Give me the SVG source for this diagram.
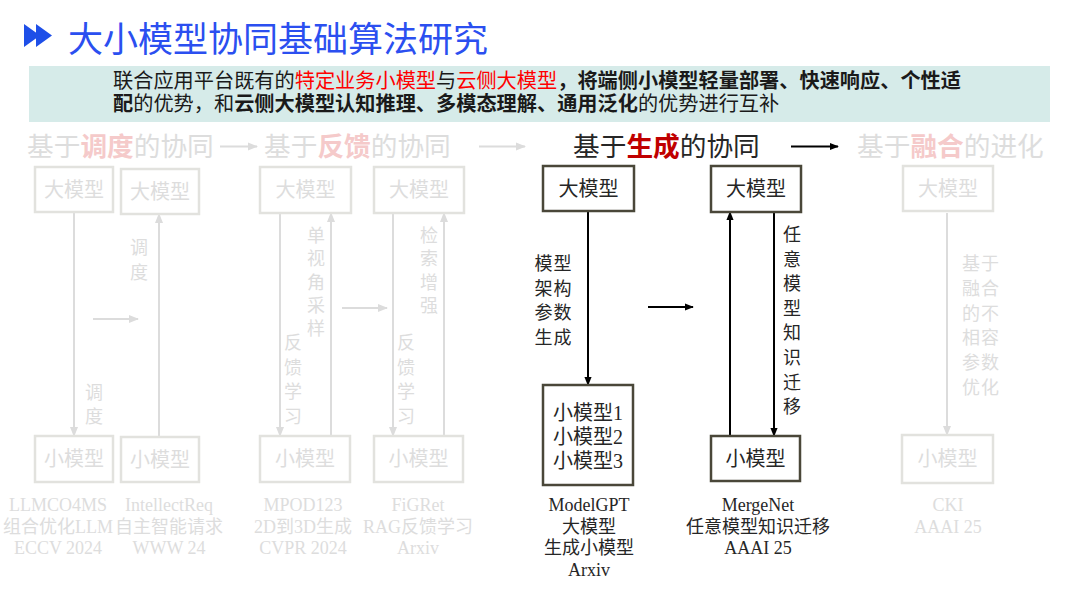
<svg xmlns="http://www.w3.org/2000/svg" width="1080" height="608" viewBox="0 0 1080 608">
<style>
.cjk{font-family:"Noto Sans CJK SC","Noto Sans",sans-serif;}
.ser{font-family:"Liberation Serif","Noto Sans CJK SC",serif;}
.title{font-size:35px;fill:#2b4ff0;}
.sub{font-size:20.2px;fill:#1a1a1a;}
.red{fill:#ff0000;}
.b{font-weight:bold;}
.hdr{font-size:26.7px;}
.fadeT{fill:#dddddd;}
.fadeR{fill:#f5caca;font-weight:bold;}
.darkT{fill:#262626;}
.darkR{fill:#c00000;font-weight:bold;}
.fbox{fill:#ffffff;stroke:#e2e2de;stroke-width:2.5;}
.dbox{fill:#ffffff;stroke:#4a4739;stroke-width:2.5;}
.nt{font-size:20px;text-anchor:middle;}
.lbl{font-size:18px;text-anchor:middle;}
.cap{font-size:18px;text-anchor:middle;}
.fl{stroke:#dcdcdc;stroke-width:2;fill:none;}
.dl{stroke:#000000;stroke-width:2;fill:none;}
</style>
<defs>
<marker id="ah-f" markerUnits="userSpaceOnUse" markerWidth="10" markerHeight="10" viewBox="0 0 10 10" refX="9" refY="5" orient="auto"><path d="M0,1 L10,5 L0,9 z" fill="#dcdcdc"/></marker>
<marker id="ah-d" markerUnits="userSpaceOnUse" markerWidth="9" markerHeight="9" viewBox="0 0 10 10" refX="9" refY="5" orient="auto"><path d="M0,1 L10,5 L0,9 z" fill="#000000"/></marker>
</defs>

<rect width="1080" height="608" fill="#ffffff"/>

<g id="title">
<path d="M24,24 L40,35.5 L24,47 z M36,24 L52,35.5 L36,47 z" fill="#1e4fe8"/>
<text x="68" y="52" class="cjk title">大小模型协同基础算法研究</text>
</g>

<g id="summary">
<rect x="29" y="66" width="1021" height="56" fill="#d6ebe9"/>
<text x="113" y="88" class="cjk sub">联合应用平台既有的<tspan class="red">特定业务小模型</tspan>与<tspan class="red">云侧大模型</tspan><tspan class="b">，将端侧小模型轻量部署、快速响应、个性适</tspan></text>
<text x="113" y="111" class="cjk sub"><tspan class="b">配</tspan>的优势，和<tspan class="b">云侧大模型认知推理、多模态理解、通用泛化</tspan>的优势进行互补</text>
</g>

<g id="headers">
<text x="27" y="156" class="cjk hdr fadeT">基于<tspan class="fadeR">调度</tspan>的协同</text>
<text x="264" y="156" class="cjk hdr fadeT">基于<tspan class="fadeR">反馈</tspan>的协同</text>
<text x="573" y="156" class="cjk hdr darkT">基于<tspan class="darkR">生成</tspan>的协同</text>
<text x="857" y="156" class="cjk hdr fadeT">基于<tspan class="fadeR">融合</tspan>的进化</text>
</g>

<g id="connectors">
<line x1="220" y1="146.5" x2="257" y2="146.5" class="fl" marker-end="url(#ah-f)"/>
<line x1="479" y1="146.5" x2="525" y2="146.5" class="fl" marker-end="url(#ah-f)"/>
<line x1="791" y1="146.5" x2="838" y2="146.5" class="dl" marker-end="url(#ah-d)"/>
<line x1="74" y1="213" x2="74" y2="436" class="fl" marker-end="url(#ah-f)"/>
<line x1="159" y1="437" x2="159" y2="214" class="fl" marker-end="url(#ah-f)"/>
<line x1="93" y1="319" x2="138" y2="319" class="fl" marker-end="url(#ah-f)"/>
<line x1="280" y1="213" x2="280" y2="436" class="fl" marker-end="url(#ah-f)"/>
<line x1="331" y1="436" x2="331" y2="213" class="fl" marker-end="url(#ah-f)"/>
<line x1="342" y1="308" x2="387" y2="308" class="fl" marker-end="url(#ah-f)"/>
<line x1="393" y1="213" x2="393" y2="436" class="fl" marker-end="url(#ah-f)"/>
<line x1="444" y1="436" x2="444" y2="213" class="fl" marker-end="url(#ah-f)"/>
<line x1="588" y1="212" x2="588" y2="385" class="dl" marker-end="url(#ah-d)"/>
<line x1="648" y1="307" x2="693" y2="307" class="dl" marker-end="url(#ah-d)"/>
<line x1="730" y1="436" x2="730" y2="212" class="dl" marker-end="url(#ah-d)"/>
<line x1="774" y1="212" x2="774" y2="436" class="dl" marker-end="url(#ah-d)"/>
<line x1="947" y1="213" x2="947" y2="435" class="fl" marker-end="url(#ah-f)"/>
</g>

<g id="edge-labels">
<text x="139" y="254" class="cjk lbl fadeT"><tspan x="139">调</tspan><tspan x="139" dy="25">度</tspan></text>
<text x="94" y="399" class="cjk lbl fadeT"><tspan x="94">调</tspan><tspan x="94" dy="24">度</tspan></text>
<text x="316" y="242" class="cjk lbl fadeT"><tspan x="316">单</tspan><tspan x="316" dy="23.3">视</tspan><tspan x="316" dy="23.3">角</tspan><tspan x="316" dy="23.3">采</tspan><tspan x="316" dy="23.3">样</tspan></text>
<text x="293" y="349" class="cjk lbl fadeT"><tspan x="293">反</tspan><tspan x="293" dy="24.5">馈</tspan><tspan x="293" dy="24.5">学</tspan><tspan x="293" dy="24.5">习</tspan></text>
<text x="429" y="242" class="cjk lbl fadeT"><tspan x="429">检</tspan><tspan x="429" dy="23.3">索</tspan><tspan x="429" dy="23.3">增</tspan><tspan x="429" dy="23.3">强</tspan></text>
<text x="406" y="349" class="cjk lbl fadeT"><tspan x="406">反</tspan><tspan x="406" dy="24.5">馈</tspan><tspan x="406" dy="24.5">学</tspan><tspan x="406" dy="24.5">习</tspan></text>
<text x="553.5" y="270" class="cjk lbl darkT" letter-spacing="1"><tspan x="553.5">模型</tspan><tspan x="553.5" dy="24.5">架构</tspan><tspan x="553.5" dy="24.5">参数</tspan><tspan x="553.5" dy="24.5">生成</tspan></text>
<text x="792" y="241" class="cjk lbl darkT"><tspan x="792">任</tspan><tspan x="792" dy="24.6">意</tspan><tspan x="792" dy="24.6">模</tspan><tspan x="792" dy="24.6">型</tspan><tspan x="792" dy="24.6">知</tspan><tspan x="792" dy="24.6">识</tspan><tspan x="792" dy="24.6">迁</tspan><tspan x="792" dy="24.6">移</tspan></text>
<text x="981" y="270" class="cjk lbl fadeT" letter-spacing="1"><tspan x="981">基于</tspan><tspan x="981" dy="24.8">融合</tspan><tspan x="981" dy="24.8">的不</tspan><tspan x="981" dy="24.8">相容</tspan><tspan x="981" dy="24.8">参数</tspan><tspan x="981" dy="24.8">优化</tspan></text>
</g>

<g id="node-sched-large1"><rect x="35" y="167" width="78" height="45" class="fbox"/><text x="74" y="197" class="cjk nt fadeT">大模型</text></g>
<g id="node-sched-large2"><rect x="121" y="169" width="78" height="45" class="fbox"/><text x="160" y="199" class="cjk nt fadeT">大模型</text></g>
<g id="node-sched-small1"><rect x="35" y="436" width="78" height="46" class="fbox"/><text x="74" y="466" class="cjk nt fadeT">小模型</text></g>
<g id="node-sched-small2"><rect x="121" y="437" width="78" height="45" class="fbox"/><text x="160" y="467" class="cjk nt fadeT">小模型</text></g>

<g id="node-fb-large1"><rect x="260" y="167" width="91" height="46" class="fbox"/><text x="305.5" y="197" class="cjk nt fadeT">大模型</text></g>
<g id="node-fb-large2"><rect x="374" y="167" width="90" height="46" class="fbox"/><text x="419" y="197" class="cjk nt fadeT">大模型</text></g>
<g id="node-fb-small1"><rect x="260" y="436" width="90" height="46" class="fbox"/><text x="305" y="466" class="cjk nt fadeT">小模型</text></g>
<g id="node-fb-small2"><rect x="374" y="436" width="89" height="46" class="fbox"/><text x="418.5" y="466" class="cjk nt fadeT">小模型</text></g>

<g id="node-gen-large1"><rect x="543" y="166" width="91" height="45" class="dbox"/><text x="588.5" y="196" class="cjk nt darkT">大模型</text></g>
<g id="node-gen-small-multi"><rect x="543" y="385" width="90" height="100" class="dbox"/>
<text x="588" y="420" class="ser nt darkT"><tspan x="588">小模型1</tspan><tspan x="588" dy="24">小模型2</tspan><tspan x="588" dy="24">小模型3</tspan></text></g>
<g id="node-gen-large2"><rect x="711" y="166" width="90" height="46" class="dbox"/><text x="756" y="196" class="cjk nt darkT">大模型</text></g>
<g id="node-gen-small2"><rect x="711" y="436" width="89" height="45" class="dbox"/><text x="755.5" y="466" class="cjk nt darkT">小模型</text></g>

<g id="node-fuse-large"><rect x="903" y="166" width="90" height="45" class="fbox"/><text x="948" y="196" class="cjk nt fadeT">大模型</text></g>
<g id="node-fuse-small"><rect x="902" y="435" width="91" height="48" class="fbox"/><text x="947.5" y="466" class="cjk nt fadeT">小模型</text></g>

<g id="captions">
<text x="58" y="511" class="ser cap fadeT"><tspan x="58">LLMCO4MS</tspan><tspan x="58" dy="21.5">组合优化LLM</tspan><tspan x="58" dy="21.5">ECCV 2024</tspan></text>
<text x="169" y="511" class="ser cap fadeT"><tspan x="169">IntellectReq</tspan><tspan x="169" dy="21.5">自主智能请求</tspan><tspan x="169" dy="21.5">WWW 24</tspan></text>
<text x="303" y="511" class="ser cap fadeT"><tspan x="303">MPOD123</tspan><tspan x="303" dy="21.5">2D到3D生成</tspan><tspan x="303" dy="21.5">CVPR 2024</tspan></text>
<text x="418" y="511" class="ser cap fadeT"><tspan x="418">FiGRet</tspan><tspan x="418" dy="21.5">RAG反馈学习</tspan><tspan x="418" dy="21.5">Arxiv</tspan></text>
<text x="589" y="511" class="ser cap darkT"><tspan x="589">ModelGPT</tspan><tspan x="589" dy="21.5">大模型</tspan><tspan x="589" dy="21.5">生成小模型</tspan><tspan x="589" dy="21.5">Arxiv</tspan></text>
<text x="758" y="511" class="ser cap darkT"><tspan x="758">MergeNet</tspan><tspan x="758" dy="21.5">任意模型知识迁移</tspan><tspan x="758" dy="21.5">AAAI 25</tspan></text>
<text x="948" y="511" class="ser cap fadeT"><tspan x="948">CKI</tspan><tspan x="948" dy="21.5">AAAI 25</tspan></text>
</g>
</svg>
